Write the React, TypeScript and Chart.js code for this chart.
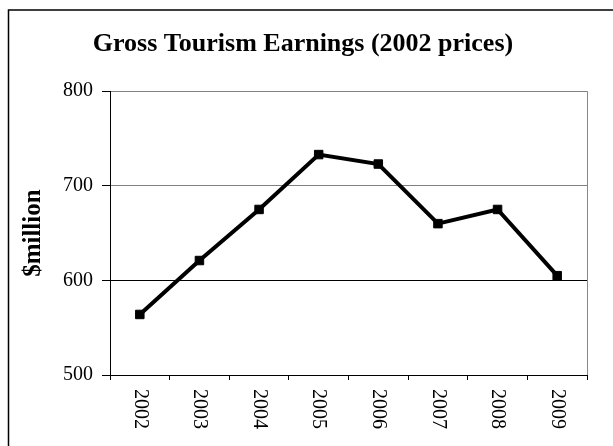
import React, { useEffect, useRef } from "react";
import { Chart, registerables } from "chart.js";

Chart.register(...registerables);

const years = ["2002", "2003", "2004", "2005", "2006", "2007", "2008", "2009"];
const earnings = [564, 621, 675, 733, 723, 660, 675, 605];
const yTicks = [500, 600, 700, 800];
const titleText = "Gross Tourism Earnings (2002 prices)";
const yTitle = "$million";

const FONT = "'Liberation Serif', 'Times New Roman', serif";

const framePlugin = {
  id: "frame",
  beforeDraw(chart: any) {
    const { ctx, width, height } = chart;
    ctx.save();
    ctx.fillStyle = "#fff";
    ctx.fillRect(0, 0, width, height);
    ctx.strokeStyle = "#000";
    ctx.lineWidth = 1.5;
    ctx.beginPath();
    ctx.moveTo(8.5, height + 10);
    ctx.lineTo(8.5, 10);
    ctx.lineTo(width + 10, 10);
    ctx.stroke();
    ctx.restore();
  },
  afterDraw(chart: any) {
    const { ctx, chartArea } = chart;
    ctx.save();
    ctx.strokeStyle = "#888";
    ctx.lineWidth = 1;
    ctx.beginPath();
    ctx.moveTo(chartArea.right + 0.5, chartArea.top);
    ctx.lineTo(chartArea.right + 0.5, chartArea.bottom);
    ctx.stroke();
    // rotated x labels (clockwise)
    const xs = chart.scales.x;
    ctx.fillStyle = "#000";
    ctx.font = `20px ${FONT}`;
    ctx.textAlign = "left";
    ctx.textBaseline = "middle";
    years.forEach((label, i) => {
      const x = xs.getPixelForValue(i);
      ctx.save();
      ctx.translate(x, 389);
      ctx.rotate(Math.PI / 2);
      ctx.fillText(label, 0, 0);
      ctx.restore();
    });
    ctx.restore();
  },
};

export default function App() {
  const ref = useRef<HTMLCanvasElement | null>(null);
  useEffect(() => {
    if (!ref.current) return;
    const chart = new Chart(ref.current, {
      type: "line",
      data: {
        labels: years,
        datasets: [
          {
            data: earnings,
            borderColor: "#000",
            backgroundColor: "#000",
            borderWidth: 4,
            tension: 0,
            pointStyle: "rect",
            pointRadius: 6,
            pointBorderWidth: 1,
            pointBackgroundColor: "#000",
            pointBorderColor: "#000",
          },
        ],
      },
      options: {
        animation: false,
        responsive: false,
        devicePixelRatio: 1,
        layout: { padding: { left: 19, right: 26, top: 0, bottom: 0 } },
        plugins: {
          legend: { display: false },
          tooltip: { enabled: false },
          title: {
            display: true,
            text: titleText,
            color: "#000",
            font: { family: FONT, size: 26, weight: "bold" },
            padding: { top: 29, bottom: 31 },
          },
        },
        scales: {
          x: {
            type: "category",
            offset: true,
            grid: {
              offset: true,
              drawOnChartArea: false,
              drawTicks: true,
              tickLength: 5,
              color: "#000",
              tickColor: "#000",
            },
            border: { color: "#000", width: 1 },
            ticks: { display: false },
            afterFit(scale: any) {
              scale.height = 71;
            },
          },
          y: {
            min: 500,
            max: 800,
            afterBuildTicks(scale: any) {
              scale.ticks = yTicks.map((v) => ({ value: v }));
            },
            grid: {
              color: (c: any) =>
                c.tick && c.tick.value <= 600 ? "#000" : "#808080",
              tickColor: "#000",
              tickLength: 8,
              lineWidth: 1,
            },
            border: { color: "#000", width: 1 },
            ticks: {
              color: "#000",
              padding: 9,
              font: { family: FONT, size: 20 },
            },
            title: {
              display: true,
              text: yTitle,
              color: "#000",
              font: { family: FONT, size: 25, weight: "bold" },
              padding: { top: 0, bottom: 0 },
            },
            afterFit(scale: any) {
              scale.width = 91;
            },
          },
        },
      },
      plugins: [framePlugin],
    });
    return () => chart.destroy();
  }, []);
  return (
    <div style={{ position: "absolute", left: 0, top: 0, width: 613, height: 446 }}>
      <canvas ref={ref} width={613} height={446} style={{ width: 613, height: 446, display: "block" }} />
    </div>
  );
}
